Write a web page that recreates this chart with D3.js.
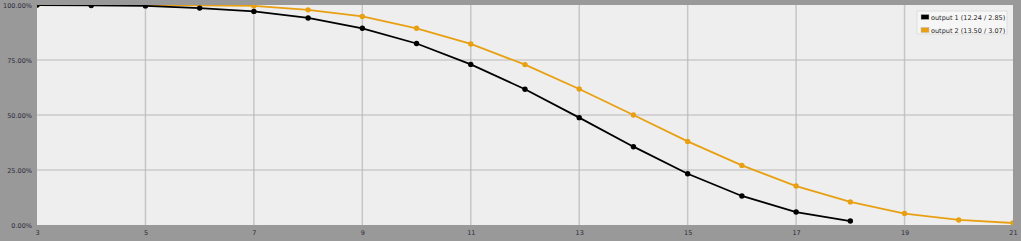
<!DOCTYPE html>
<html>
<head>
<meta charset="utf-8">
<script src="https://cdn.jsdelivr.net/npm/d3@7/dist/d3.min.js"></script>
<style>
html, body { margin: 0; padding: 0; background: #999999; }
svg { display: block; font-family: "DejaVu Sans", Verdana, sans-serif; }
</style>
</head>
<body>
<script>
var xs1 = [3, 4, 5, 6, 7, 8, 9, 10, 11, 12, 13, 14, 15, 16, 17, 18];
var vals1 = [100, 99.8, 99.6, 98.6, 97.1, 94.1, 89.4, 82.5, 73.0, 61.7, 48.8, 35.6, 23.3, 13.2, 5.9, 1.8];

var xs2 = [3, 4, 5, 6, 7, 8, 9, 10, 11, 12, 13, 14, 15, 16, 17, 18, 19, 20, 21];
var vals2 = [100, 100, 100, 99.8, 99.6, 97.8, 94.8, 89.4, 82.3, 72.9, 61.8, 50.0, 38.0, 27.1, 17.7, 10.5, 5.2, 2.3, 0.9];

var seriesNames = ["output 1 (12.24 / 2.85)", "output 2 (13.50 / 3.07)"];
var seriesColors = ["#000000", "#e8a012"];

var xTicks = [3, 5, 7, 9, 11, 13, 15, 17, 19, 21];
var yTicks = [0, 25, 50, 75, 100];

var W = 1021, H = 241;
var margin = {top: 5, right: 8, bottom: 16, left: 37};
var width = W - margin.left - margin.right,
    height = H - margin.top - margin.bottom;

var x = d3.scaleLinear().domain([3, 21]).range([0, width]);
var y = d3.scaleLinear().domain([0, 100]).range([height, 0]);

var svg = d3.select("body").append("svg")
    .attr("width", W)
    .attr("height", H);

svg.append("rect")
    .attr("width", W).attr("height", H)
    .attr("fill", "#999999");

svg.append("defs").append("clipPath")
    .attr("id", "plotclip")
    .append("rect")
    .attr("width", width).attr("height", height);

var g = svg.append("g")
    .attr("transform", "translate(" + margin.left + "," + margin.top + ")");

g.append("rect")
    .attr("width", width).attr("height", height)
    .attr("fill", "#eeeeee");

// grid
g.append("g").selectAll("line")
    .data(xTicks.slice(1, -1))
    .enter().append("line")
    .attr("x1", function(d) { return x(d); })
    .attr("x2", function(d) { return x(d); })
    .attr("y1", 0).attr("y2", height)
    .attr("stroke", "#c6c6c6")
    .attr("stroke-width", 1.5);

g.append("g").selectAll("line")
    .data(yTicks.slice(1, -1))
    .enter().append("line")
    .attr("x1", 0).attr("x2", width)
    .attr("y1", function(d) { return y(d); })
    .attr("y2", function(d) { return y(d); })
    .attr("stroke", "#b8b8b8")
    .attr("stroke-width", 1.2);

// axes
var xAxis = d3.axisBottom(x).tickValues(xTicks).tickSize(0).tickPadding(5)
    .tickFormat(d3.format("d"));
var gx = g.append("g")
    .attr("transform", "translate(0," + height + ")")
    .call(xAxis);
gx.select(".domain").remove();
gx.selectAll("text")
    .attr("font-size", "6.5px")
    .attr("font-family", "DejaVu Sans, sans-serif")
    .attr("fill", "#2a2a3a");

var yAxis = d3.axisLeft(y).tickValues(yTicks).tickSize(0).tickPadding(5)
    .tickFormat(function(d) { return d.toFixed(2) + "%"; });
var gy = g.append("g").call(yAxis);
gy.select(".domain").remove();
gy.selectAll("text")
    .attr("font-size", "6.5px")
    .attr("font-family", "DejaVu Sans, sans-serif")
    .attr("fill", "#2a2a3a");

// series (output 2 underneath, output 1 on top)
var series = [
    {xs: xs2, vals: vals2, color: seriesColors[1]},
    {xs: xs1, vals: vals1, color: seriesColors[0]}
];

var line = d3.line()
    .x(function(d) { return x(d[0]); })
    .y(function(d) { return y(d[1]); });

var plot = g.append("g").attr("clip-path", "url(#plotclip)");

series.forEach(function(s) {
    var pts = s.xs.map(function(v, i) { return [v, s.vals[i]]; });
    plot.append("path")
        .datum(pts)
        .attr("d", line)
        .attr("fill", "none")
        .attr("stroke", s.color)
        .attr("stroke-width", 1.8);
    plot.append("g").selectAll("circle")
        .data(pts)
        .enter().append("circle")
        .attr("cx", function(d) { return x(d[0]); })
        .attr("cy", function(d) { return y(d[1]); })
        .attr("r", 2.7)
        .attr("fill", s.color);
});

// legend
var leg = svg.append("g").attr("transform", "translate(917,11)");
leg.append("rect")
    .attr("width", 90).attr("height", 23)
    .attr("fill", "#f6f6f6")
    .attr("stroke", "#dddddd");
seriesNames.forEach(function(name, i) {
    var row = leg.append("g").attr("transform", "translate(0," + (i * 13) + ")");
    row.append("rect")
        .attr("x", 4).attr("y", 3.5)
        .attr("width", 8).attr("height", 5)
        .attr("fill", seriesColors[i])
        .attr("stroke", "#bbbbbb")
        .attr("stroke-width", 0.5);
    row.append("text")
        .attr("x", 14).attr("y", 8.5)
        .attr("font-size", "6.5px")
        .attr("fill", "#222222")
        .text(name);
});
</script>
</body>
</html>
